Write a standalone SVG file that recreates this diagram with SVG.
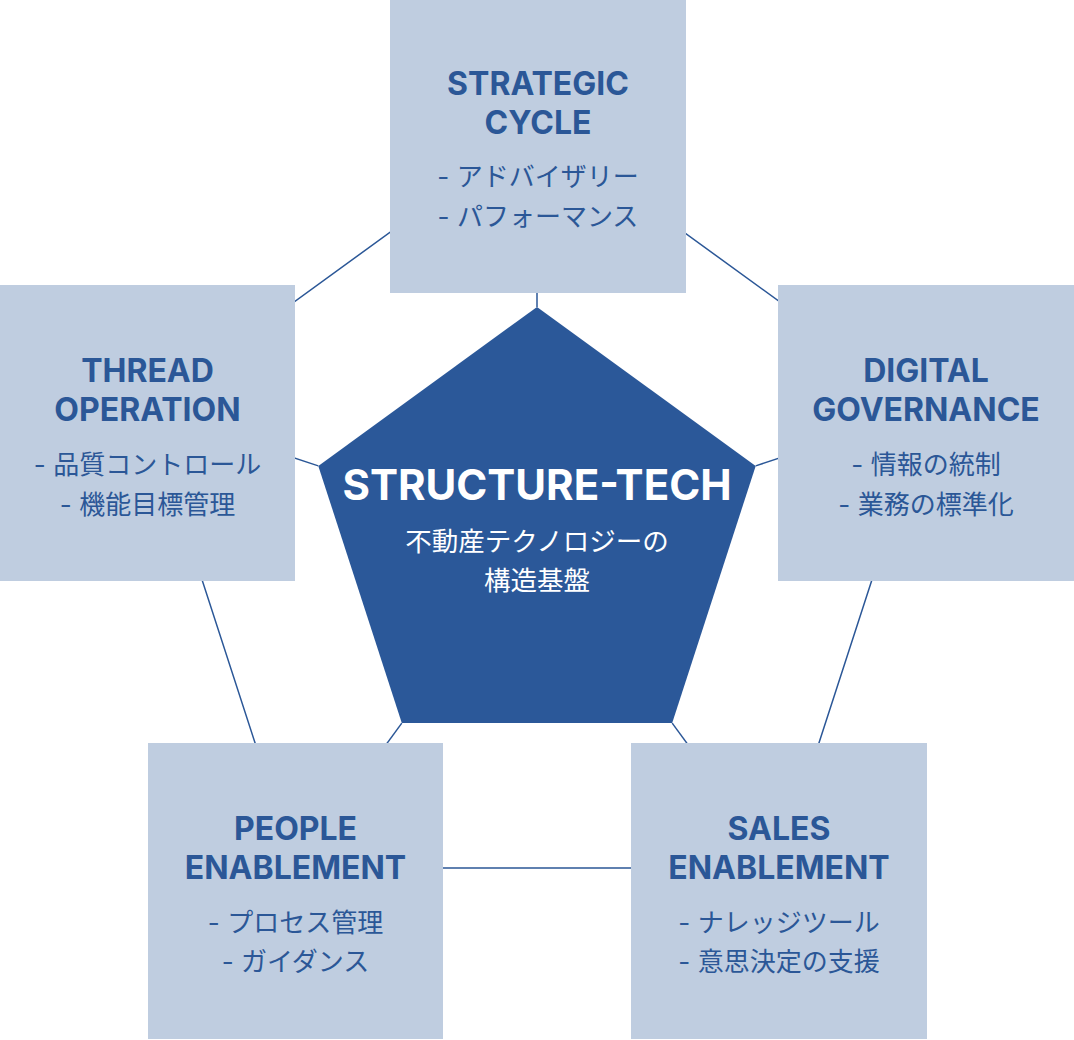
<svg xmlns="http://www.w3.org/2000/svg" width="1074" height="1040" viewBox="0 0 1074 1040">
  <style>
    .conn { stroke: #2b5797; stroke-width: 1.5; fill: none; }
    .box { fill: #bfcde0; }
    .title { font-family: Inter, "Noto Sans", "Liberation Sans", sans-serif; font-weight: 700; font-size: 32px; fill: #2b5797; text-anchor: middle; }
    .sub { font-family: Inter, "Noto Sans CJK JP", "Noto Sans", sans-serif; font-weight: 400; font-size: 26px; fill: #2b5797; text-anchor: middle; }
    .ctitle { font-family: Inter, "Noto Sans", "Liberation Sans", sans-serif; font-weight: 700; font-size: 42px; fill: #ffffff; text-anchor: middle; }
    .csub { font-family: Inter, "Noto Sans CJK JP", "Noto Sans", sans-serif; font-weight: 400; font-size: 26.5px; fill: #ffffff; text-anchor: middle; }
  </style>
  <rect width="1074" height="1040" fill="#ffffff"/>
  <g id="connectors">
    <polygon class="conn" points="537,125.5 927.4,409.1 778.3,868.1 295.7,868.1 146.6,409.1"/>
    <line class="conn" x1="537" y1="307" x2="537" y2="125.5"/>
    <line class="conn" x1="318.3" y1="465.9" x2="146.6" y2="409.1"/>
    <line class="conn" x1="755.7" y1="465.9" x2="927.4" y2="409.1"/>
    <line class="conn" x1="401.8" y1="723.1" x2="295.7" y2="868.1"/>
    <line class="conn" x1="672.2" y1="723.1" x2="778.3" y2="868.1"/>
  </g>
  <g id="center">
    <polygon points="537,307 755.7,465.9 672.2,723.1 401.8,723.1 318.3,465.9" fill="#2b5899"/>
    <text class="ctitle" x="537" y="500">STRUCTURE-TECH</text>
    <text class="csub" x="537" y="551">不動産テクノロジーの</text>
    <text class="csub" x="537" y="590">構造基盤</text>
  </g>
  <g id="strategic-cycle">
    <rect class="box" x="390" y="-3" width="296" height="296"/>
    <text class="title" x="538" y="95">STRATEGIC</text>
    <text class="title" x="538" y="134">CYCLE</text>
    <text class="sub" x="538" y="186">- アドバイザリー</text>
    <text class="sub" x="538" y="226">- パフォーマンス</text>
  </g>
  <g id="thread-operation">
    <rect class="box" x="0" y="285" width="295" height="296"/>
    <text class="title" x="147.5" y="382">THREAD</text>
    <text class="title" x="147.5" y="421">OPERATION</text>
    <text class="sub" x="147.5" y="474">- 品質コントロール</text>
    <text class="sub" x="147.5" y="514">- 機能目標管理</text>
  </g>
  <g id="digital-governance">
    <rect class="box" x="778" y="285" width="296" height="296"/>
    <text class="title" x="926" y="382">DIGITAL</text>
    <text class="title" x="926" y="421">GOVERNANCE</text>
    <text class="sub" x="926" y="474">- 情報の統制</text>
    <text class="sub" x="926" y="514">- 業務の標準化</text>
  </g>
  <g id="people-enablement">
    <rect class="box" x="148" y="743" width="295" height="296"/>
    <text class="title" x="295.5" y="840">PEOPLE</text>
    <text class="title" x="295.5" y="879">ENABLEMENT</text>
    <text class="sub" x="295.5" y="932">- プロセス管理</text>
    <text class="sub" x="295.5" y="971">- ガイダンス</text>
  </g>
  <g id="sales-enablement">
    <rect class="box" x="631" y="743" width="296" height="296"/>
    <text class="title" x="779" y="840">SALES</text>
    <text class="title" x="779" y="879">ENABLEMENT</text>
    <text class="sub" x="779" y="932">- ナレッジツール</text>
    <text class="sub" x="779" y="971">- 意思決定の支援</text>
  </g>
</svg>
